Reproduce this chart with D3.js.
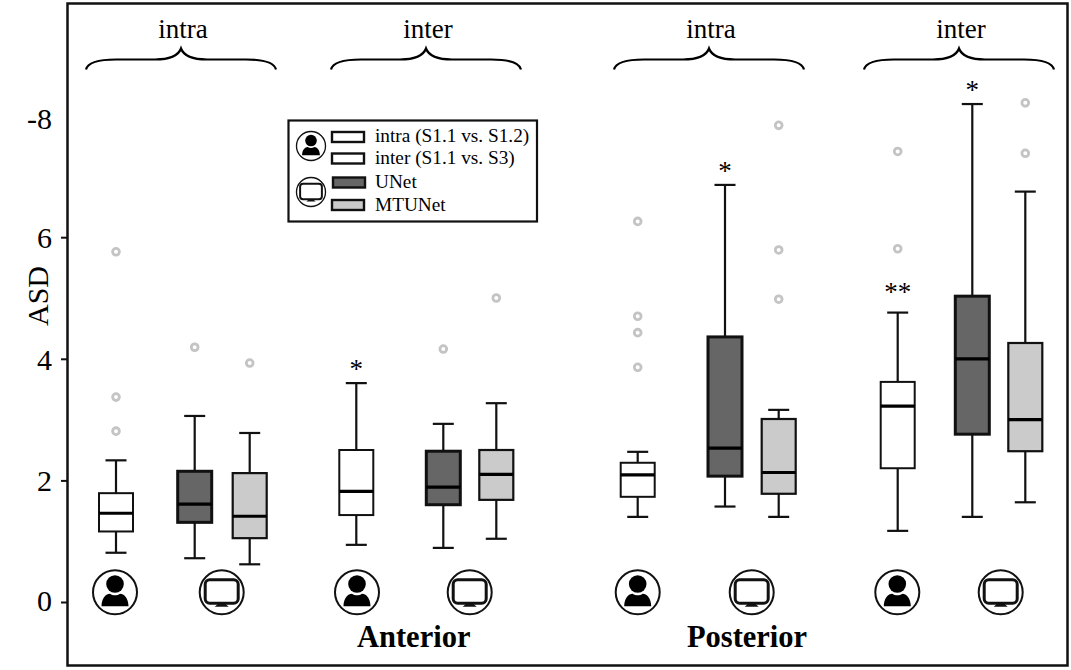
<!DOCTYPE html>
<html><head><meta charset="utf-8">
<script src="https://cdn.jsdelivr.net/npm/d3@7"></script>
<style>html,body{margin:0;padding:0;background:#fff}svg{display:block}text{font-family:"Liberation Serif",serif;fill:#000}</style>
</head><body><svg id="c" width="1071" height="670"></svg>
<script>
// ---- data ----
const boxIds = ["A-intra-H","A-intra-U","A-intra-M","A-inter-H","A-inter-U","A-inter-M","P-intra-H","P-intra-U","P-intra-M","P-inter-H","P-inter-U","P-inter-M"];
const methods = ["human","UNet","MTUNet","human","UNet","MTUNet","human","UNet","MTUNet","human","UNet","MTUNet"];
const whiskerLow  = [0.81,0.72,0.62,0.94,0.89,1.04,1.40,1.57,1.40,1.17,1.40,1.64];
const quartile1   = [1.16,1.31,1.05,1.43,1.60,1.68,1.73,2.07,1.78,2.20,2.76,2.48];
const medians     = [1.46,1.61,1.41,1.82,1.89,2.10,2.09,2.53,2.13,3.22,4.00,3.00];
const quartile3   = [1.79,2.15,2.12,2.50,2.48,2.50,2.29,4.36,3.01,3.62,5.03,4.26];
const whiskerHigh = [2.33,3.06,2.78,3.60,2.93,3.27,2.47,6.86,3.16,4.76,8.19,6.75];
const outliers = [[2.81,3.37,5.76],[4.19],[3.93],[],[4.16],[5.00],[3.86,4.43,4.70,6.26],[],[4.98,5.79,7.84],[5.81,7.41],[],[7.38,8.21]];
const stars = ["","","","*","","","","*","","**","*",""];
const yTicks = [0,2,4,6,8];
const yTickLabels = ["0","2","4","6","-8"];
const groupLabels = ["intra","inter","intra","inter"];
const regionLabels = ["Anterior","Posterior"];
const legendLabels = ["intra (S1.1 vs. S1.2)","inter (S1.1 vs. S3)","UNet","MTUNet"];
const iconKinds = ["person","monitor","person","monitor","person","monitor","person","monitor"];

// ---- scales ----
const svg = d3.select("#c");
const y = d3.scaleLinear().domain([0,8]).range([602,115.6]);
const x = d3.scaleOrdinal(boxIds,[116,194.7,249.7,356.3,443.3,496.3,637.7,725,778.7,897.7,972.3,1025.3]);
const fill = d3.scaleOrdinal(["human","UNet","MTUNet"],["#ffffff","#666666","#cbcbcb"]);
const boxStroke = d3.scaleOrdinal(["human","UNet","MTUNet"],[2,3,2.2]);
const boxW = 34, capW = 21;
const rows = boxIds.map((id,i)=>({id,m:methods[i],lo:whiskerLow[i],q1:quartile1[i],med:medians[i],q3:quartile3[i],hi:whiskerHigh[i],out:outliers[i],star:stars[i]}));

// frame
svg.append("rect").attr("x",67.5).attr("y",3.5).attr("width",1000).attr("height",662).attr("fill","#fff").attr("stroke","#111").attr("stroke-width",2.5);

// axis
const axis = d3.axisLeft(y).tickValues(yTicks).tickFormat((d,i)=>yTickLabels[i]).tickSize(6).tickPadding(9);
const ga = svg.append("g").attr("transform","translate(67,0)").call(axis);
ga.select(".domain").remove();
ga.selectAll("line").attr("stroke","#111").attr("stroke-width",2).filter(d=>d===8).remove();
ga.selectAll("text").style("font-family",'"Liberation Serif",serif').style("font-size","30px").attr("fill","#000")
  .attr("dy",d=>d===8?"0.42em":d===0?"0.28em":"0.34em");
svg.append("text").attr("transform","translate(48,296) rotate(-90)").attr("text-anchor","middle").style("font-size","30px").text("ASD");

// boxes
const g = svg.selectAll("g.box").data(rows).join("g").attr("class","box");
g.append("line").attr("x1",d=>x(d.id)).attr("x2",d=>x(d.id)).attr("y1",d=>y(d.hi)).attr("y2",d=>y(d.lo)).attr("stroke","#111").attr("stroke-width",2.2);
["hi","lo"].forEach(k=>g.append("line").attr("x1",d=>x(d.id)-capW/2).attr("x2",d=>x(d.id)+capW/2).attr("y1",d=>y(d[k])).attr("y2",d=>y(d[k])).attr("stroke","#111").attr("stroke-width",2.2));
g.append("rect").attr("x",d=>x(d.id)-boxW/2).attr("width",boxW).attr("y",d=>y(d.q3)).attr("height",d=>y(d.q1)-y(d.q3)).attr("fill",d=>fill(d.m)).attr("stroke","#111").attr("stroke-width",d=>boxStroke(d.m));
g.append("line").attr("x1",d=>x(d.id)-boxW/2).attr("x2",d=>x(d.id)+boxW/2).attr("y1",d=>y(d.med)).attr("y2",d=>y(d.med)).attr("stroke","#000").attr("stroke-width",3.2);
g.selectAll("circle").data(d=>d.out.map(v=>({id:d.id,v}))).join("circle").attr("cx",d=>x(d.id)).attr("cy",d=>y(d.v)).attr("r",3.4).attr("fill","#fff").attr("stroke","#c4c4c4").attr("stroke-width",2.8);
g.filter(d=>d.star).append("text").attr("x",d=>x(d.id)).attr("y",d=>y(d.hi)-(d.star.length>1?22.5:16.5)).attr("text-anchor","middle").attr("dy","0.42em").style("font-size","27px").text(d=>d.star);

// icons
function drawIcon(sel,kind,cx,cy,s){
  const n=sel.append("g").attr("transform",`translate(${cx},${cy}) scale(${s})`);
  n.append("circle").attr("r",22).attr("fill","#fff").attr("stroke","#111").attr("stroke-width",2);
  if(kind==="person"){
    n.append("circle").attr("cy",-8.3).attr("r",8.8).attr("fill","#000");
    const p=d3.path();p.moveTo(-13.5,14);p.bezierCurveTo(-13.5,6,-9,1.5,-5,1.5);p.bezierCurveTo(-2,3.5,2,3.5,5,1.5);p.bezierCurveTo(9,1.5,13.5,6,13.5,14);p.closePath();
    n.append("path").attr("d",p.toString()).attr("fill","#000");
  } else {
    n.append("rect").attr("x",-16.5).attr("y",-12.5).attr("width",33).attr("height",23.5).attr("rx",4.5).attr("fill","#fff").attr("stroke","#111").attr("stroke-width",3);
    const p=d3.path();p.moveTo(-3,11);p.lineTo(3,11);p.lineTo(7,14.5);p.lineTo(-7,14.5);p.closePath();
    n.append("path").attr("d",p.toString()).attr("fill","#111");
  }
}
const iconX=[115,221.7,357,469.7,637.7,751.7,897.3,1000.7];
iconKinds.forEach((k,i)=>drawIcon(svg,k,iconX[i],592.3,1));

// braces + group labels
const braceX=[[86,276],[331,521],[614,804],[864,1054]];
groupLabels.forEach((t,i)=>{
  const [a,b]=braceX[i],m=(a+b)/2,top=48.5,mid=59.5,bot=69.5;
  const p=d3.path();
  p.moveTo(a,bot);p.bezierCurveTo(a+2,mid+2,a+14,mid,a+30,mid);p.lineTo(m-26,mid);p.bezierCurveTo(m-12,mid,m-3,mid-3,m,top);
  p.bezierCurveTo(m+3,mid-3,m+12,mid,m+26,mid);p.lineTo(b-30,mid);p.bezierCurveTo(b-14,mid,b-2,mid+2,b,bot);
  svg.append("path").attr("d",p.toString()).attr("fill","none").attr("stroke","#000").attr("stroke-width",2.2);
  svg.append("text").attr("x",m+2).attr("y",38).attr("text-anchor","middle").style("font-size","27px").text(t);
});

// region labels
[413.7,747].forEach((px,i)=>svg.append("text").attr("x",px).attr("y",647).attr("text-anchor","middle").style("font-size","30.5px").style("font-weight","bold").text(regionLabels[i]));

// legend
const lg=svg.append("g");
lg.append("rect").attr("x",288.5).attr("y",120.5).attr("width",248.5).attr("height",101).attr("fill","#fff").attr("stroke","#111").attr("stroke-width",2.2);
drawIcon(lg,"person",311,146,0.66);
drawIcon(lg,"monitor",311,192,0.66);
const legM=["human","human","UNet","MTUNet"],legY=[137,158.5,182.5,205],legBase=[142,164,188,211],legX=[332,332,333,332];
legendLabels.forEach((t,i)=>{
  lg.append("rect").attr("x",legX[i]).attr("y",legY[i]-5).attr("width",32).attr("height",10).attr("fill",fill(legM[i])).attr("stroke","#111").attr("stroke-width",2.4);
  lg.append("text").attr("x",375).attr("y",legBase[i]).style("font-size","19.3px").text(t);
});
</script></body></html>
